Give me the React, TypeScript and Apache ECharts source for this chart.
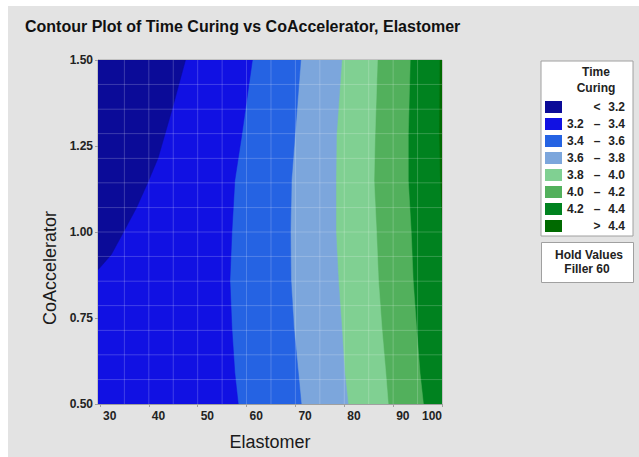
import React, { useEffect, useRef } from "react";
import * as echarts from "echarts";

// ---- Data ----
const TITLE = "Contour Plot of Time Curing vs CoAccelerator, Elastomer";
const X_NAME = "Elastomer";
const Y_NAME = "CoAccelerator";
const X_MIN = 29.6;
const X_MAX = 100;
const Y_MIN = 0.5;
const Y_MAX = 1.5;
const X_TICKS = [30, 40, 50, 60, 70, 80, 90, 100];

// contour levels (Time Curing) and band colours (low -> high)
const LEVELS = [3.2, 3.4, 3.6, 3.8, 4.0, 4.2, 4.4];
const BAND_COLORS = ["#0b0b98", "#1111e3", "#2563e3", "#7ca6dc", "#80d092", "#52b05c", "#00821f", "#006a00"];

// boundary of level 3.2 (Elastomer, CoAccelerator)
const B32_X = [47.5, 44.8, 41.9, 39.8, 37.5, 34.8, 32.3, 29.6];
const B32_Y = [1.5, 1.358, 1.215, 1.144, 1.071, 0.999, 0.934, 0.89];

// other boundaries share these CoAccelerator values
const B_Y = [1.5, 1.28, 1.15, 1.0, 0.86, 0.72, 0.59, 0.5];
const B34_X = [61.2, 59.0, 57.6, 57.0, 56.6, 57.0, 57.6, 58.3];
const B36_X = [71.1, 69.9, 69.2, 69.0, 69.1, 69.7, 70.6, 71.2];
const B38_X = [79.5, 78.4, 78.3, 78.3, 78.8, 79.5, 80.1, 80.8];
const B40_X = [86.8, 86.3, 86.1, 86.6, 87.0, 87.7, 88.5, 89.0];
const B42_X = [93.5, 93.1, 93.1, 93.7, 94.1, 94.8, 95.5, 96.2];
const B44_X = [99.5, 99.4, 99.6, 100.0, 100.4, 100.8, 101.2, 101.6];

// faint tile lines in the plot
const GRID_X_LINES = [35, 40, 45, 50, 55, 60, 65, 70, 75, 80, 85, 90, 95];
const GRID_Y_LINES = [0.571, 0.643, 0.714, 0.786, 0.857, 0.929, 1.0, 1.071, 1.143, 1.214, 1.286, 1.357, 1.429];

const HOLD_TITLE = "Hold Values";
const HOLD_TEXT = "Filler 60";
const LEGEND_TITLE = "Time\nCuring";

const FONT = "'Liberation Sans', Arial, Helvetica, sans-serif";

const BOUNDARIES: number[][][] = [
  B32_X.map((x, i) => [x, B32_Y[i]]),
  B34_X.map((x, i) => [x, B_Y[i]]),
  B36_X.map((x, i) => [x, B_Y[i]]),
  B38_X.map((x, i) => [x, B_Y[i]]),
  B40_X.map((x, i) => [x, B_Y[i]]),
  B42_X.map((x, i) => [x, B_Y[i]]),
  B44_X.map((x, i) => [x, B_Y[i]]),
];

function bandName(i: number): string {
  if (i === 0) return "< " + LEVELS[0].toFixed(1);
  if (i === LEVELS.length) return "> " + LEVELS[LEVELS.length - 1].toFixed(1);
  return LEVELS[i - 1].toFixed(1) + " – " + LEVELS[i].toFixed(1);
}

// region "value below level i" (left of boundary i); top band is the whole plot
function regionPoints(i: number): number[][] {
  if (i >= BOUNDARIES.length) {
    return [[X_MIN, Y_MAX], [X_MAX, Y_MAX], [X_MAX, Y_MIN], [X_MIN, Y_MIN]];
  }
  const b = BOUNDARIES[i];
  const last = b[b.length - 1];
  return [[X_MIN - 5, Y_MAX], ...b, [X_MIN - 5, last[1]]];
}

export default function App() {
  const ref = useRef<HTMLDivElement>(null);

  useEffect(() => {
    if (!ref.current) return;
    const chart = echarts.init(ref.current, null, { renderer: "svg" });

    const bandSeries: any[] = [];
    for (let i = BAND_COLORS.length - 1; i >= 0; i--) {
      bandSeries.push({
        type: "custom",
        name: bandName(i),
        xAxisIndex: 0,
        yAxisIndex: 0,
        clip: true,
        silent: true,
        itemStyle: { color: BAND_COLORS[i] },
        data: [[X_MIN, Y_MIN]],
        renderItem: (_params: any, api: any) => {
          const pts = regionPoints(i).map((p) => api.coord(p));
          return {
            type: "polygon",
            shape: { points: pts },
            style: { fill: BAND_COLORS[i], stroke: BAND_COLORS[i], lineWidth: 0.5 },
          };
        },
      });
    }

    const gridSeries = {
      type: "custom",
      name: "tiles",
      xAxisIndex: 0,
      yAxisIndex: 0,
      clip: true,
      silent: true,
      z: 5,
      data: [[X_MIN, Y_MIN]],
      renderItem: (_params: any, api: any) => {
        const children: any[] = [];
        GRID_X_LINES.forEach((v) => {
          const p1 = api.coord([v, Y_MIN]);
          const p2 = api.coord([v, Y_MAX]);
          children.push({
            type: "line",
            shape: { x1: p1[0], y1: p1[1], x2: p2[0], y2: p2[1] },
            style: { stroke: "rgba(255,255,255,0.2)", lineWidth: 1 },
          });
        });
        GRID_Y_LINES.forEach((v) => {
          const p1 = api.coord([X_MIN, v]);
          const p2 = api.coord([X_MAX, v]);
          children.push({
            type: "line",
            shape: { x1: p1[0], y1: p1[1], x2: p2[0], y2: p2[1] },
            style: { stroke: "rgba(255,255,255,0.2)", lineWidth: 1 },
          });
        });
        return { type: "group", children };
      },
    };

    const labelCommon = {
      fontFamily: FONT,
      fontSize: 12,
      fontWeight: "bold",
      color: "#222",
    };

    const legendNames = BAND_COLORS.map((_c, i) => bandName(i));

    const option: any = {
      animation: false,
      backgroundColor: "transparent",
      title: {
        text: TITLE,
        left: 25,
        top: 18,
        padding: 0,
        textStyle: { fontFamily: FONT, fontSize: 16, fontWeight: "bold", color: "#111" },
      },
      grid: {
        left: 98,
        right: 197,
        top: 60,
        bottom: 53,
        show: true,
        borderColor: "#a0a0a0",
        borderWidth: 1,
        backgroundColor: "transparent",
        outerBoundsMode: "none",
        containLabel: false,
      },
      xAxis: [
        {
          type: "value",
          min: X_MIN,
          max: X_MAX,
          name: X_NAME,
          nameLocation: "middle",
          nameGap: 29,
          nameTextStyle: { fontFamily: FONT, fontSize: 18, color: "#1a1a1a" },
          axisLine: { show: true, lineStyle: { color: "#a0a0a0" } },
          axisTick: { show: true, length: 3, customValues: X_TICKS, lineStyle: { color: "#a0a0a0" } },
          axisLabel: {
            ...labelCommon,
            customValues: X_TICKS,
            align: "left",
            alignMaxLabel: "right",
            padding: [0, 0, 0, 3],
            margin: 6,
          },
          splitLine: { show: false },
        },
      ],
      yAxis: [
        {
          type: "value",
          min: Y_MIN,
          max: Y_MAX,
          interval: 0.25,
          axisLine: { show: true, lineStyle: { color: "#a0a0a0" } },
          axisTick: { show: true, length: 3, lineStyle: { color: "#a0a0a0" } },
          axisLabel: {
            ...labelCommon,
            margin: 5,
            formatter: (v: number) => v.toFixed(2),
          },
          splitLine: { show: false },
        },
      ],
      legend: {
        data: legendNames,
        orient: "vertical",
        left: 541,
        top: 61,
        padding: [40, 8, 4, 4],
        itemWidth: 17,
        itemHeight: 12,
        itemGap: 5,
        icon: "rect",
        selectedMode: false,
        backgroundColor: "#ffffff",
        borderColor: "#a0a0a0",
        borderWidth: 1,
        borderRadius: 0,
        itemStyle: { borderWidth: 0 },
        textStyle: { ...labelCommon },
        formatter: (name: string) => {
          if (name.startsWith("<") || name.startsWith(">")) {
            const parts = name.split(" ");
            return `{a| }{b|${parts[0]}}{c|${parts[1]}}`;
          }
          const parts = name.split(" – ");
          return `{a|${parts[0]}}{b|–}{c|${parts[1]}}`;
        },
      },
      graphic: [
        {
          type: "text",
          z: 100,
          x: 596,
          y: 80,
          style: {
            text: LEGEND_TITLE,
            fontFamily: FONT,
            fontSize: 12,
            fontWeight: "bold",
            fill: "#222",
            align: "center",
            verticalAlign: "middle",
            lineHeight: 16.5,
          },
        },
        {
          type: "rect",
          z: 100,
          shape: { x: 541.5, y: 242.5, width: 92, height: 40 },
          style: { fill: "#ffffff", stroke: "#a0a0a0", lineWidth: 1 },
        },
        {
          type: "text",
          z: 101,
          x: 589,
          y: 255,
          style: {
            text: HOLD_TITLE,
            fontFamily: FONT,
            fontSize: 12,
            fontWeight: "bold",
            fill: "#222",
            align: "center",
            verticalAlign: "middle",
          },
        },
        {
          type: "text",
          z: 101,
          x: 587,
          y: 269,
          style: {
            text: HOLD_TEXT,
            fontFamily: FONT,
            fontSize: 12,
            fontWeight: "bold",
            fill: "#222",
            align: "center",
            verticalAlign: "middle",
          },
        },
        {
          type: "text",
          z: 100,
          x: 50,
          y: 268,
          rotation: Math.PI / 2,
          style: {
            text: Y_NAME,
            fontFamily: FONT,
            fontSize: 18,
            fill: "#1a1a1a",
            align: "center",
            verticalAlign: "middle",
          },
        },
      ],
      series: [...bandSeries, gridSeries],
    };

    option.legend.textStyle.rich = {
      a: { ...labelCommon, width: 22, align: "left" },
      b: { ...labelCommon, width: 16, align: "center" },
      c: { ...labelCommon, width: 20, align: "right" },
    };

    chart.setOption(option);
    return () => chart.dispose();
  }, []);

  return (
    <div style={{ position: "absolute", left: 0, top: 0, width: 639, height: 457, background: "#ffffff" }}>
      <div style={{ position: "absolute", left: 8, top: 6, width: 631, height: 451, background: "#e3e3e3" }} />
      <div ref={ref} style={{ position: "absolute", left: 0, top: 0, width: 639, height: 457 }} />
    </div>
  );
}
